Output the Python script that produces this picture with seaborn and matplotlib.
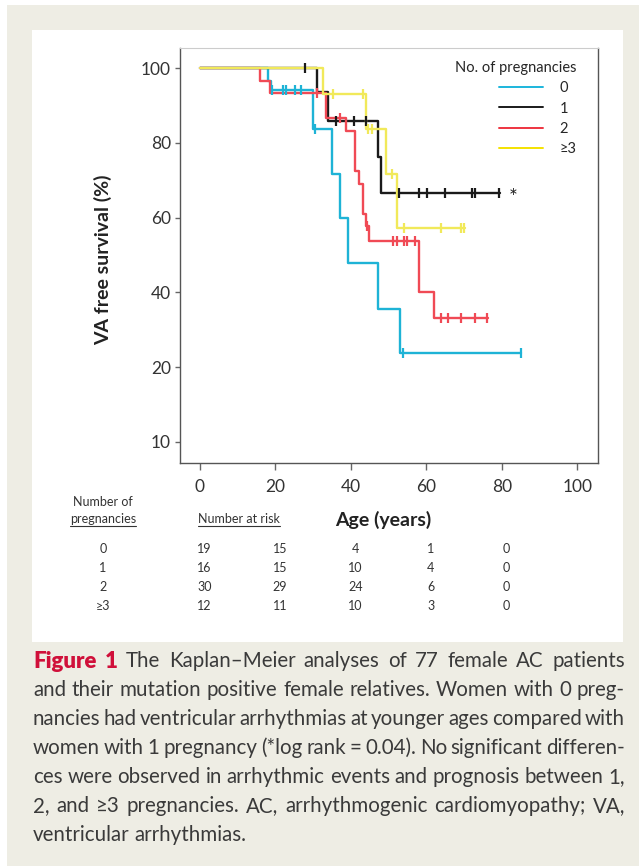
import numpy as np
import pandas as pd
import seaborn as sns
import matplotlib
matplotlib.use('Agg')
import matplotlib.pyplot as plt
from matplotlib.lines import Line2D
from matplotlib.patches import Rectangle
import matplotlib.transforms as mtransforms

# number of pregnancies (groups)
groups = ['0', '1', '2', '≥3']

# event ages (years) and VA free survival (%) just after each event
events_0 = [18.1, 18.8, 30.0, 35.1, 37.1, 39.1, 47.1, 53.0]
surv_0 = [96.5, 94.2, 83.6, 71.7, 59.9, 47.9, 35.7, 23.7]
censor_0 = [19.2, 22.0, 22.9, 25.1, 26.9, 30.4, 53.8, 85.0]

events_1 = [30.9, 34.0, 47.2, 48.1]
surv_1 = [93.75, 85.9, 76.3, 66.5]
censor_1 = [27.8, 36.0, 40.8, 44.1, 52.8, 58.1, 60.1, 64.9, 72.0, 72.9, 79.2]

events_2 = [16.0, 18.5, 33.5, 38.8, 41.0, 42.2, 43.1, 44.0, 44.8, 58.0, 62.1]
surv_2 = [96.7, 93.3, 86.8, 83.2, 72.6, 69.0, 61.1, 57.8, 53.7, 40.2, 33.3]
censor_2 = [31.1, 37.0, 44.3, 51.2, 52.1, 54.1, 54.9, 57.1, 64.0, 65.8, 69.1, 73.0, 76.2]

events_3 = [32.6, 44.1, 49.3, 52.1]
surv_3 = [93.0, 83.6, 71.6, 57.3]
censor_3 = [35.2, 43.2, 44.6, 45.5, 51.0, 54.0, 64.0, 69.1, 70.0]

# end of follow-up per group
last_age = [85.2, 79.4, 76.4, 70.2]

# number at risk table
risk_times = [0, 20, 40, 60, 80]
risk_0 = [19, 15, 4, 1, 0]
risk_1 = [16, 15, 10, 4, 0]
risk_2 = [30, 29, 24, 6, 0]
risk_3 = [12, 11, 10, 3, 0]

x_ticks = [0, 20, 40, 60, 80, 100]
y_ticks = [0, 20, 40, 60, 80, 100]
y_ticklabels = ['10', '20', '40', '60', '80', '100']

caption_lines = [
    'Figure 1 The Kaplan–Meier analyses of 77 female AC patients',
    'and their mutation positive female relatives. Women with 0 preg-',
    'nancies had ventricular arrhythmias at younger ages compared with',
    'women with 1 pregnancy (*log rank = 0.04). No significant differen-',
    'ces were observed in arrhythmic events and prognosis between 1,',
    '2, and ≥3 pregnancies. AC, arrhythmogenic cardiomyopathy; VA,',
    'ventricular arrhythmias.',
]

line_colors = ['#1eb3d6', '#1a1a1a', '#f04a55', '#f1e95a']
legend_colors = ['#1cb5dc', '#1a1a1a', '#ee3440', '#f4e200']

sns.set_style('ticks')
plt.rcParams['font.family'] = ['Lato', 'DejaVu Sans']

W, H = 639, 866
fig = plt.figure(figsize=(W / 100, H / 100), dpi=100, facecolor='white')

# page background: beige box with a white panel
fig.patches.append(Rectangle((7 / W, 0), 1 - 7 / W, 1 - 5 / H, transform=fig.transFigure,
                             facecolor='#eeede4', edgecolor='none', zorder=-3))
fig.patches.append(Rectangle((32 / W, 1 - 642 / H), (623 - 32) / W, (642 - 30) / H,
                             transform=fig.transFigure, facecolor='white', edgecolor='none', zorder=-2))

ax = fig.add_axes([180 / W, 1 - 463.3 / H, 418 / W, 415.3 / H])

events = [events_0, events_1, events_2, events_3]
survs = [surv_0, surv_1, surv_2, surv_3]
censors = [censor_0, censor_1, censor_2, censor_3]

rows = []
for g, ev, sv, end in zip(groups, events, survs, last_age):
    t = [0.0] + ev + [end]
    s = [100.0] + sv + [sv[-1]]
    for a, b in zip(t, s):
        rows.append({'age': a, 'surv': b, 'group': g})
df = pd.DataFrame(rows)

sns.lineplot(data=df, x='age', y='surv', hue='group', hue_order=groups,
             palette=line_colors, estimator=None, sort=False, drawstyle='steps-post',
             linewidth=1.7, legend=False, ax=ax)

# censor marks
for ev, sv, cen, col in zip(events, survs, censors, line_colors):
    levels = np.array([100.0] + sv)
    idx = np.searchsorted(np.array(ev), np.array(cen), side='right')
    ax.plot(cen, levels[idx], ls='none', marker='|', ms=7, mew=1.6, color=col)

ax.text(82.9, 65.3, '*', fontsize=15, color='#222222', ha='center', va='center')

ax.set_xlim(-5.3, 105.5)
ax.set_ylim(-5.7, 105.4)
ax.set_xticks(x_ticks)
ax.set_yticks(y_ticks)
ax.set_yticklabels(y_ticklabels)
ax.tick_params(axis='x', length=5, width=1, color='#666666', pad=6, labelsize=12.5, labelcolor='#333333')
ax.tick_params(axis='y', length=3.5, width=1, color='#666666', pad=3, labelsize=12.5, labelcolor='#333333')
for side in ['left', 'bottom', 'right']:
    ax.spines[side].set_color('#555555')
    ax.spines[side].set_linewidth(1.0)
ax.spines['top'].set_color('#cccccc')
ax.spines['top'].set_linewidth(0.8)

ax.set_xlabel('Age (years)', fontsize=14, fontweight='bold', color='#222222')
ax.set_ylabel('VA free survival (%)', fontsize=14, fontweight='bold', color='#222222')
ax.xaxis.set_label_coords(0.486, -0.115)
ax.yaxis.set_label_coords(-0.163, 0.49)

handles = [Line2D([], [], color=c, lw=1.4) for c in legend_colors]
ax.legend(handles, groups, title='No. of pregnancies', loc='upper right',
          bbox_to_anchor=(0.948, 0.968), frameon=False, alignment='right',
          fontsize=10.5, title_fontsize=10.5, handlelength=3.0, handletextpad=1.1,
          labelspacing=0.42, borderpad=0, borderaxespad=0)

# number at risk table
risk_rows = [risk_0, risk_1, risk_2, risk_3]
row_y = [549, 568, 587, 606]
tab_fs = 9
blend = mtransforms.blended_transform_factory(ax.transData, fig.transFigure)
for g, vals, y in zip(groups, risk_rows, row_y):
    fig.text(103 / W, 1 - y / H, g, fontsize=tab_fs, color='#333333', ha='center', va='center')
    for t, v in zip(risk_times, vals):
        ax.text(t + 1.2, 1 - y / H, str(v), transform=blend, fontsize=tab_fs,
                color='#333333', ha='center', va='center', clip_on=False)

hdr1 = fig.text(103 / W, 1 - 502 / H, 'Number of', fontsize=tab_fs, color='#333333', ha='center', va='center')
hdr2 = fig.text(103 / W, 1 - 519 / H, 'pregnancies', fontsize=tab_fs, color='#333333', ha='center', va='center')
hdr3 = fig.text(239 / W, 1 - 519 / H, 'Number at risk', fontsize=tab_fs, color='#333333', ha='center', va='center')

renderer = fig.canvas.get_renderer()
for t in [hdr2, hdr3]:
    bb = t.get_window_extent(renderer)
    fig.add_artist(Line2D([bb.x0 / W, bb.x1 / W], [(bb.y0 - 1) / H, (bb.y0 - 1) / H],
                          transform=fig.transFigure, color='#333333', lw=0.8))

# caption, justified
cap_y = [661, 690, 719, 748, 777, 806, 835]
left_px, right_px = 33, 625
for i, (line, y) in enumerate(zip(caption_lines, cap_y)):
    words = line.split(' ')
    texts = []
    for j, w in enumerate(words):
        red = (i == 0 and j < 2)
        texts.append(fig.text(0, 1 - y / H, w, fontsize=16 if red else 14.8,
                              color='#d0103a' if red else '#3a3a3a',
                              fontweight='heavy' if red else 'normal',
                              ha='left', va='center'))
    widths = [t.get_window_extent(renderer).width for t in texts]
    if i < len(caption_lines) - 1:
        gap = (right_px - left_px - sum(widths)) / (len(words) - 1)
    else:
        gap = 4.5
    x = left_px
    for t, w in zip(texts, widths):
        t.set_x(x / W)
        x += w + gap

fig.savefig('out.png', dpi=100, facecolor=fig.get_facecolor())
